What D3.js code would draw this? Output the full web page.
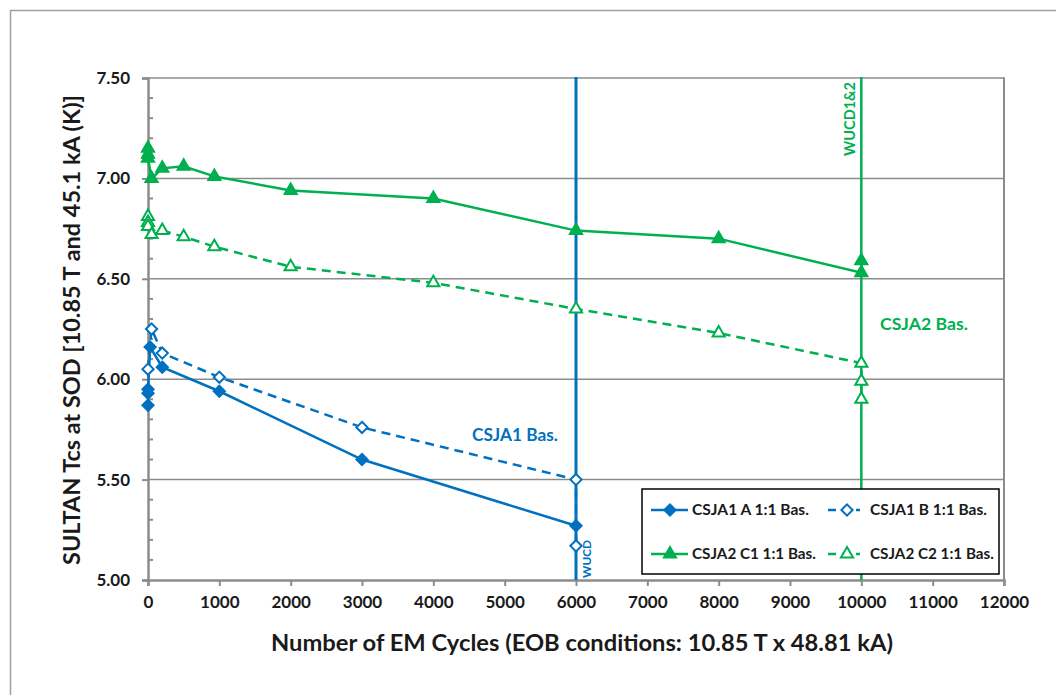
<!DOCTYPE html>
<html>
<head>
<meta charset="utf-8">
<script src="https://cdn.jsdelivr.net/npm/d3@7"></script>
<style>
  html, body { margin: 0; padding: 0; background: #fff; }
  svg { display: block; }
  text { font-family: Lato, "Open Sans", sans-serif; }
</style>
</head>
<body>
<svg id="chart" width="1056" height="695"></svg>
<script>
// ---- data (cycles, Tcs [K]) ----
const csja1A_x = [0, 0, 0, 30, 200, 1000, 3000, 6000];
const csja1A_y = [5.87, 5.93, 5.95, 6.16, 6.06, 5.94, 5.60, 5.27];

const csja1B_x = [0, 50, 200, 1000, 3000, 6000, 6000];
const csja1B_y = [6.05, 6.25, 6.13, 6.01, 5.76, 5.50, 5.17];

const csja2C1_x = [0, 0, 0, 50, 200, 500, 930, 2000, 4000, 6000, 8000, 10000, 10000];
const csja2C1_y = [7.15, 7.12, 7.10, 7.00, 7.05, 7.06, 7.01, 6.94, 6.90, 6.74, 6.70, 6.53, 6.59];

const csja2C2_x = [0, 0, 0, 50, 200, 500, 930, 2000, 4000, 6000, 8000, 10000, 10000, 10000];
const csja2C2_y = [6.81, 6.78, 6.76, 6.72, 6.74, 6.71, 6.66, 6.56, 6.48, 6.35, 6.23, 6.08, 5.99, 5.90];

const seriesNames = ["CSJA1 A 1:1 Bas.", "CSJA1 B 1:1 Bas.", "CSJA2 C1 1:1 Bas.", "CSJA2 C2 1:1 Bas."];
const xTicks = [0, 1000, 2000, 3000, 4000, 5000, 6000, 7000, 8000, 9000, 10000, 11000, 12000];
const yTicks = [5.00, 5.50, 6.00, 6.50, 7.00, 7.50];
const vLines = [{x: 6000, label: "WUCD"}, {x: 10000, label: "WUCD1&2"}];
const annotations = ["CSJA1 Bas.", "CSJA2 Bas."];
const xTitle = "Number of EM Cycles (EOB conditions: 10.85 T x 48.81 kA)";
const yTitle = "SULTAN Tcs at SOD [10.85 T and 45.1 kA (K)]";

// ---- style ----
const BLUE = "#0070C0", GREEN = "#00B050", GRID = "#8c8c8c", INK = "#1a1a1a";

const svg = d3.select("#chart");
const m = {left: 148, right: 1004, top: 78, bottom: 580};
const x = d3.scaleLinear().domain([0, 12000]).range([m.left, m.right]);
const y = d3.scaleLinear().domain([5, 7.5]).range([m.bottom, m.top]);

// helper: fit text to a target width by adjusting font-size
function fit(sel, target) {
  const w = sel.node().getComputedTextLength();
  const fs = parseFloat(sel.attr("font-size"));
  sel.attr("font-size", fs * target / w);
  return sel;
}

// outer frame
svg.append("rect").attr("x", 10.5).attr("y", 10.5).attr("width", 1100).attr("height", 800)
  .attr("fill", "none").attr("stroke", "#a0a0a0").attr("stroke-width", 1.5);

// gridlines
svg.append("g").selectAll("line").data(yTicks.filter(d => d > 5)).join("line")
  .attr("x1", m.left).attr("x2", m.right).attr("y1", d => y(d)).attr("y2", d => y(d))
  .attr("stroke", GRID).attr("stroke-width", 1.5);
// right border
svg.append("line").attr("x1", m.right).attr("x2", m.right).attr("y1", m.top - 0.75).attr("y2", m.bottom)
  .attr("stroke", GRID).attr("stroke-width", 2);

// y axis
const yAxis = d3.axisLeft(y).tickValues(yTicks).tickFormat(d3.format(".2f")).tickSize(6).tickPadding(12);
const gy = svg.append("g").attr("transform", `translate(${m.left},0)`).call(yAxis);
gy.select(".domain").attr("stroke", GRID).attr("stroke-width", 2.5);
gy.selectAll(".tick line").attr("stroke", GRID).attr("stroke-width", 2);
gy.selectAll(".tick text").attr("font-size", 17).attr("font-weight", "bold").attr("fill", INK)
  .attr("font-family", "Lato, sans-serif");
// y minor ticks (inside)
const yMinor = d3.range(5.1, 7.5, 0.1).filter(v => Math.abs(v * 2 - Math.round(v * 2)) > 0.01);
svg.append("g").selectAll("line").data(yMinor).join("line")
  .attr("x1", m.left).attr("x2", m.left + 5).attr("y1", d => y(d)).attr("y2", d => y(d))
  .attr("stroke", GRID).attr("stroke-width", 2);

// x axis
const xAxis = d3.axisBottom(x).tickValues(xTicks).tickFormat(d3.format("d")).tickSize(6).tickPadding(10);
const gx = svg.append("g").attr("transform", `translate(0,${m.bottom})`).call(xAxis);
gx.select(".domain").attr("stroke", GRID).attr("stroke-width", 2.5);
gx.selectAll(".tick line").attr("stroke", GRID).attr("stroke-width", 2);
gx.selectAll(".tick text").attr("font-size", 17).attr("font-weight", "bold").attr("fill", INK)
  .attr("font-family", "Lato, sans-serif");

// axis titles
fit(svg.append("text").attr("x", 582).attr("y", 651).attr("text-anchor", "middle")
  .attr("font-size", 21).attr("font-weight", "bold").attr("fill", INK).text(xTitle), 622);
fit(svg.append("text").attr("transform", "translate(80,330) rotate(-90)").attr("text-anchor", "middle")
  .attr("font-size", 21).attr("font-weight", "bold").attr("fill", INK).text(yTitle), 470);

// vertical event lines
const vColors = [BLUE, GREEN];
vLines.forEach((v, i) => {
  svg.append("line").attr("x1", x(v.x)).attr("x2", x(v.x)).attr("y1", m.top - 1).attr("y2", m.bottom)
    .attr("stroke", vColors[i]).attr("stroke-width", i === 0 ? 3 : 2.5);
});
fit(svg.append("text").attr("transform", `translate(${x(6000) + 15},${m.bottom - 2}) rotate(-90)`)
  .attr("font-size", 14).attr("font-weight", "bold").attr("fill", BLUE).attr("text-anchor", "start")
  .text(vLines[0].label), 38);
fit(svg.append("text").attr("transform", `translate(${x(10000) - 6},${m.top + 4}) rotate(-90)`)
  .attr("font-size", 14).attr("font-weight", "bold").attr("fill", GREEN).attr("text-anchor", "end")
  .text(vLines[1].label), 74);

// annotations
fit(svg.append("text").attr("x", 472).attr("y", 441).attr("font-size", 16).attr("font-weight", "bold")
  .attr("fill", BLUE).text(annotations[0]), 86);
fit(svg.append("text").attr("x", 880).attr("y", 330).attr("font-size", 16).attr("font-weight", "bold")
  .attr("fill", GREEN).text(annotations[1]), 88);

// series
const series = [
  {xs: csja1A_x, ys: csja1A_y, color: BLUE, dash: null, shape: "diamond", filled: true},
  {xs: csja1B_x, ys: csja1B_y, color: BLUE, dash: "9,6", shape: "diamond", filled: false},
  {xs: csja2C1_x, ys: csja2C1_y, color: GREEN, dash: null, shape: "triangle", filled: true},
  {xs: csja2C2_x, ys: csja2C2_y, color: GREEN, dash: "9,6", shape: "triangle", filled: false},
];
const sym = {
  diamond: d3.symbol().type(d3.symbolDiamond2).size(80),
  triangle: d3.symbol().type(d3.symbolTriangle2).size(105),
};
const line = d3.line().x(d => x(d[0])).y(d => y(d[1]));
series.forEach(s => {
  const pts = s.xs.map((v, i) => [v, s.ys[i]]);
  svg.append("path").datum(pts).attr("d", line).attr("fill", "none")
    .attr("stroke", s.color).attr("stroke-width", 2.5).attr("stroke-dasharray", s.dash);
  svg.append("g").selectAll("path").data(pts).join("path")
    .attr("transform", d => `translate(${x(d[0])},${y(d[1])})`)
    .attr("d", sym[s.shape])
    .attr("fill", s.filled ? s.color : "#fff").attr("stroke", s.color).attr("stroke-width", 2);
});

// legend
const lg = svg.append("g");
lg.append("rect").attr("x", 642).attr("y", 489).attr("width", 357).attr("height", 85)
  .attr("fill", "#fff").attr("stroke", "#000").attr("stroke-width", 1.5);
const legPos = [[651, 510], [828, 510], [651, 554], [828, 554]];
const legW = [117, 117, 124, 124];
series.forEach((s, i) => {
  const [lx, ly] = legPos[i];
  const len = s.dash ? 32 : 37;
  lg.append("line").attr("x1", lx).attr("x2", lx + len).attr("y1", ly).attr("y2", ly)
    .attr("stroke", s.color).attr("stroke-width", 2.5).attr("stroke-dasharray", s.dash ? "8,6" : null);
  lg.append("path").attr("transform", `translate(${lx + 19},${ly})`)
    .attr("d", sym[s.shape])
    .attr("fill", s.filled ? s.color : "#fff").attr("stroke", s.color).attr("stroke-width", 2);
  const t = lg.append("text").attr("x", lx + (s.dash ? 42 : 41)).attr("y", ly + 5).attr("font-size", 15)
    .attr("font-weight", "bold").attr("fill", INK).text(seriesNames[i]);
  fit(t, legW[i]);
});
</script>
</body>
</html>
